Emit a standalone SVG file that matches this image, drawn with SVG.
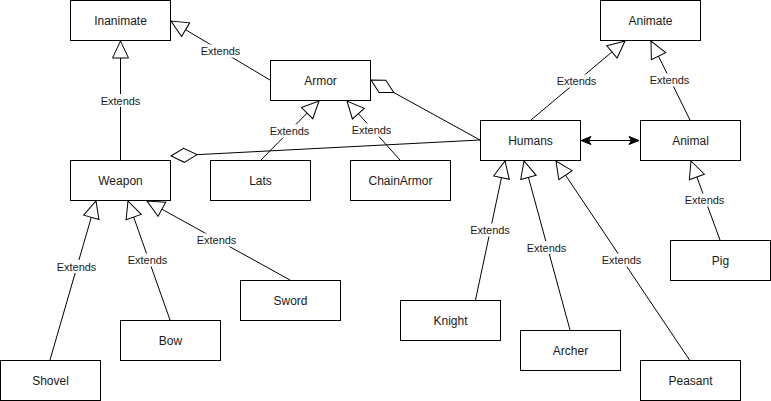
<svg xmlns="http://www.w3.org/2000/svg" width="771" height="401" viewBox="0 0 771 401">
<style>
.box rect{fill:#fff;stroke:#000;stroke-width:1}
.box text{font-family:"Liberation Sans",Arial,sans-serif;font-size:12px;fill:#1a1a1a;text-anchor:middle}
.edge{stroke:#000;stroke-width:1;fill:none}
.gen{marker-end:url(#tri)}
.lbl rect{fill:#fff}
.lbl text{font-family:"Liberation Sans",Arial,sans-serif;font-size:11px;fill:#1a1a1a;text-anchor:middle}
</style>
<defs>
<marker id="tri" markerUnits="userSpaceOnUse" markerWidth="19" markerHeight="18" refX="17" refY="8" orient="auto" overflow="visible">
<path d="M0,0 L17,8 L0,16 Z" fill="#fff" stroke="#000" stroke-width="1"/>
</marker>
<marker id="dia" markerUnits="userSpaceOnUse" markerWidth="28" markerHeight="16" refX="0" refY="7" orient="auto" overflow="visible">
<path d="M0,7 L13,0 L26,7 L13,14 Z" fill="#fff" stroke="#000" stroke-width="1"/>
</marker>
<marker id="arr" markerUnits="userSpaceOnUse" markerWidth="12" markerHeight="10" refX="10" refY="4" orient="auto-start-reverse" overflow="visible">
<path d="M0,0 L10,4 L0,8 L2.5,4 Z" fill="#000" stroke="#000" stroke-width="1"/>
</marker>
</defs>
<rect width="771" height="401" fill="#fff"/>
<g id="connectors">
<line class="edge gen" x1="270" y1="80" x2="171" y2="21"/>
<line class="edge gen" x1="120.5" y1="160" x2="120.5" y2="41"/>
<line class="edge gen" x1="261" y1="160" x2="319" y2="101"/>
<line class="edge gen" x1="400" y1="160" x2="347" y2="101"/>
<line class="edge" x1="371" y1="80" x2="480" y2="140" marker-start="url(#dia)"/>
<line class="edge" x1="171" y1="156" x2="480" y2="140" marker-start="url(#dia)"/>
<line class="edge" x1="581" y1="140.5" x2="639" y2="140.5" marker-start="url(#arr)" marker-end="url(#arr)"/>
<line class="edge gen" x1="531" y1="120" x2="625" y2="41"/>
<line class="edge gen" x1="690" y1="120" x2="651" y2="41"/>
<line class="edge gen" x1="720" y1="240" x2="691" y2="161"/>
<line class="edge gen" x1="475.5" y1="300" x2="505" y2="161"/>
<line class="edge gen" x1="570" y1="330" x2="524" y2="161"/>
<line class="edge gen" x1="689.5" y1="360" x2="556" y2="161"/>
<line class="edge gen" x1="50" y1="360" x2="96" y2="201"/>
<line class="edge gen" x1="170" y1="320" x2="128" y2="201"/>
<line class="edge gen" x1="290" y1="280" x2="147" y2="201"/>
</g>
<g id="labels">
<g class="lbl"><rect x="200" y="44.5" width="41" height="13"/><text x="220.5" y="55">Extends</text></g>
<g class="lbl"><rect x="100" y="94" width="41" height="13"/><text x="120.5" y="104.5">Extends</text></g>
<g class="lbl"><rect x="269" y="124.5" width="41" height="13"/><text x="289.5" y="135">Extends</text></g>
<g class="lbl"><rect x="351" y="123.5" width="41" height="13"/><text x="371.5" y="134">Extends</text></g>
<g class="lbl"><rect x="556" y="74.5" width="41" height="13"/><text x="576.5" y="85">Extends</text></g>
<g class="lbl"><rect x="649" y="73.5" width="41" height="13"/><text x="669.5" y="84">Extends</text></g>
<g class="lbl"><rect x="684" y="193.5" width="41" height="13"/><text x="704.5" y="204">Extends</text></g>
<g class="lbl"><rect x="469.5" y="223.5" width="41" height="13"/><text x="490" y="234">Extends</text></g>
<g class="lbl"><rect x="526" y="241" width="41" height="13"/><text x="546.5" y="251.5">Extends</text></g>
<g class="lbl"><rect x="601" y="253.5" width="41" height="13"/><text x="621.5" y="264">Extends</text></g>
<g class="lbl"><rect x="56" y="260" width="41" height="13"/><text x="76.5" y="270.5">Extends</text></g>
<g class="lbl"><rect x="127" y="253.5" width="41" height="13"/><text x="147.5" y="264">Extends</text></g>
<g class="lbl"><rect x="196" y="233.5" width="41" height="13"/><text x="216.5" y="244">Extends</text></g>
</g>
<g id="Inanimate" class="box"><rect x="70.5" y="0.5" width="100" height="40"/><text x="120.5" y="25">Inanimate</text></g>
<g id="Animate" class="box"><rect x="600.5" y="0.5" width="100" height="40"/><text x="650.5" y="25">Animate</text></g>
<g id="Armor" class="box"><rect x="270.5" y="60.5" width="100" height="40"/><text x="320.5" y="85">Armor</text></g>
<g id="Humans" class="box"><rect x="480.5" y="120.5" width="100" height="40"/><text x="530.5" y="145">Humans</text></g>
<g id="Animal" class="box"><rect x="640.5" y="120.5" width="100" height="40"/><text x="690.5" y="145">Animal</text></g>
<g id="Weapon" class="box"><rect x="70.5" y="160.5" width="100" height="40"/><text x="120.5" y="185">Weapon</text></g>
<g id="Lats" class="box"><rect x="210.5" y="160.5" width="100" height="40"/><text x="260.5" y="185">Lats</text></g>
<g id="ChainArmor" class="box"><rect x="350.5" y="160.5" width="100" height="40"/><text x="400.5" y="185">ChainArmor</text></g>
<g id="Pig" class="box"><rect x="670.5" y="240.5" width="100" height="40"/><text x="720.5" y="265">Pig</text></g>
<g id="Sword" class="box"><rect x="240.5" y="280.5" width="100" height="40"/><text x="290.5" y="305">Sword</text></g>
<g id="Bow" class="box"><rect x="120.5" y="320.5" width="100" height="40"/><text x="170.5" y="345">Bow</text></g>
<g id="Knight" class="box"><rect x="400.5" y="300.5" width="100" height="40"/><text x="450.5" y="325">Knight</text></g>
<g id="Archer" class="box"><rect x="520.5" y="330.5" width="100" height="40"/><text x="570.5" y="355">Archer</text></g>
<g id="Shovel" class="box"><rect x="0.5" y="360.5" width="100" height="40"/><text x="50.5" y="385">Shovel</text></g>
<g id="Peasant" class="box"><rect x="640.5" y="360.5" width="100" height="40"/><text x="690.5" y="385">Peasant</text></g>
</svg>
